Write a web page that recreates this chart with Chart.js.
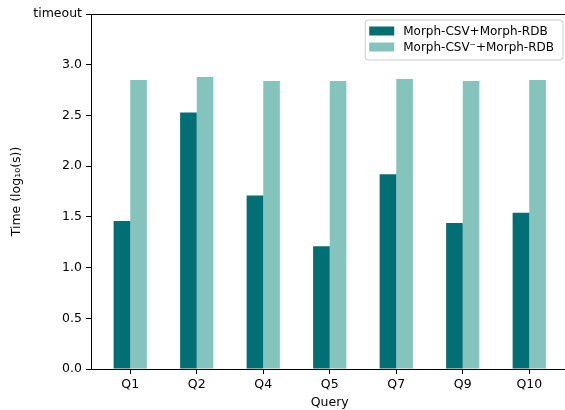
<!DOCTYPE html>
<html>
<head>
<meta charset="utf-8">
<script src="https://cdn.jsdelivr.net/npm/chart.js@4"></script>
<style>
html, body { margin: 0; padding: 0; overflow: hidden; background: #fff; width: 565px; height: 410px; }
#wrap { position: absolute; left: 0; top: 0; width: 570px; height: 410px; }
</style>
</head>
<body>
<div id="wrap"><canvas id="c" width="570" height="410"></canvas></div>
<script>
const categories = ['Q1', 'Q2', 'Q4', 'Q5', 'Q7', 'Q9', 'Q10'];
const seriesLabels = ['Morph-CSV+Morph-RDB', 'Morph-CSV\u207B+Morph-RDB'];
const morphCsv = [1.46, 2.53, 1.71, 1.21, 1.92, 1.44, 1.54];
const morphCsvMinus = [2.85, 2.88, 2.84, 2.84, 2.86, 2.84, 2.85];
const yTickLabels = ['0.0', '0.5', '1.0', '1.5', '2.0', '2.5', '3.0', 'timeout'];
const colors = ['#016f74', '#85c4bd'];

const FONT = 'DejaVu Sans';

const toPoints = vals => vals.map((v, i) => ({ x: i, y: v }));

const frameAndLegend = {
  id: 'frameAndLegend',
  afterDraw(chart) {
    const ctx = chart.ctx;
    const ca = chart.chartArea;
    ctx.save();
    // top spine
    ctx.strokeStyle = '#000';
    ctx.lineWidth = 1;
    ctx.beginPath();
    ctx.moveTo(ca.left, Math.round(ca.top) + 0.5);
    ctx.lineTo(ca.right, Math.round(ca.top) + 0.5);
    ctx.stroke();
    // legend
    ctx.font = '12px "' + FONT + '"';
    const ds = chart.data.datasets;
    let maxW = 0;
    ds.forEach(d => { maxW = Math.max(maxW, ctx.measureText(d.label).width); });
    const padL = 4, swW = 25, gap = 9, padR = 9;
    const boxW = padL + swW + gap + maxW + padR;
    const boxH = 40;
    const boxRight = ca.right - 5.5;
    const boxTop = ca.top + 6;
    const boxLeft = boxRight - boxW;
    const r = 3;
    ctx.beginPath();
    ctx.moveTo(boxLeft + r, boxTop);
    ctx.lineTo(boxRight - r, boxTop);
    ctx.quadraticCurveTo(boxRight, boxTop, boxRight, boxTop + r);
    ctx.lineTo(boxRight, boxTop + boxH - r);
    ctx.quadraticCurveTo(boxRight, boxTop + boxH, boxRight - r, boxTop + boxH);
    ctx.lineTo(boxLeft + r, boxTop + boxH);
    ctx.quadraticCurveTo(boxLeft, boxTop + boxH, boxLeft, boxTop + boxH - r);
    ctx.lineTo(boxLeft, boxTop + r);
    ctx.quadraticCurveTo(boxLeft, boxTop, boxLeft + r, boxTop);
    ctx.closePath();
    ctx.fillStyle = 'rgba(255,255,255,0.8)';
    ctx.fill();
    ctx.strokeStyle = '#cccccc';
    ctx.lineWidth = 1;
    ctx.stroke();
    ds.forEach((d, i) => {
      const cy = boxTop + 11 + i * 16;
      ctx.fillStyle = d.backgroundColor;
      ctx.fillRect(boxLeft + padL, cy - 4.5, swW, 9);
      ctx.fillStyle = '#000';
      ctx.textBaseline = 'middle';
      ctx.textAlign = 'left';
      ctx.fillText(d.label, boxLeft + padL + swW + gap, cy + 0.5);
    });
    ctx.restore();
  }
};

new Chart(document.getElementById('c'), {
  type: 'bar',
  data: {
    datasets: [
      { label: seriesLabels[0], data: toPoints(morphCsv), backgroundColor: colors[0], borderWidth: 0 },
      { label: seriesLabels[1], data: toPoints(morphCsvMinus), backgroundColor: colors[1], borderWidth: 0 }
    ]
  },
  plugins: [frameAndLegend],
  options: {
    responsive: false,
    animation: false,
    devicePixelRatio: 1,
    categoryPercentage: 0.5,
    barPercentage: 1.0,
    layout: { padding: { left: 0, right: 1.5, top: 14, bottom: 0 } },
    plugins: {
      legend: { display: false },
      tooltip: { enabled: false }
    },
    scales: {
      x: {
        type: 'linear',
        min: -0.59,
        max: 6.59,
        offset: false,
        grid: { display: true, drawOnChartArea: false, tickLength: 5, tickColor: '#000', color: '#000', offset: false },
        border: { display: true, color: '#000', width: 1 },
        ticks: {
          stepSize: 1,
          includeBounds: false,
          autoSkip: false,
          maxRotation: 0,
          padding: 3,
          color: '#000',
          font: { family: FONT, size: 12.5 },
          callback: v => (Number.isInteger(v) && v >= 0 && v < categories.length) ? categories[v] : ''
        },
        title: { display: true, text: 'Query', color: '#000', font: { family: FONT, size: 12.5 }, padding: { top: 0, bottom: 0 } },
        afterFit: s => { s.height = 41; }
      },
      y: {
        min: 0,
        max: 3.5,
        grid: { display: true, drawOnChartArea: false, tickLength: 5, tickColor: '#000', color: '#000' },
        border: { display: true, color: '#000', width: 1 },
        ticks: {
          stepSize: 0.5,
          padding: 4,
          color: '#000',
          font: { family: FONT, size: 12.5 },
          callback: v => yTickLabels[Math.round(v / 0.5)]
        },
        title: { display: true, text: 'Time (log\u2081\u2080(s))', color: '#000', font: { family: FONT, size: 12.5 }, padding: { top: 9, bottom: 0 } },
        afterFit: s => { s.width = 91; }
      }
    }
  }
});
</script>
</body>
</html>
